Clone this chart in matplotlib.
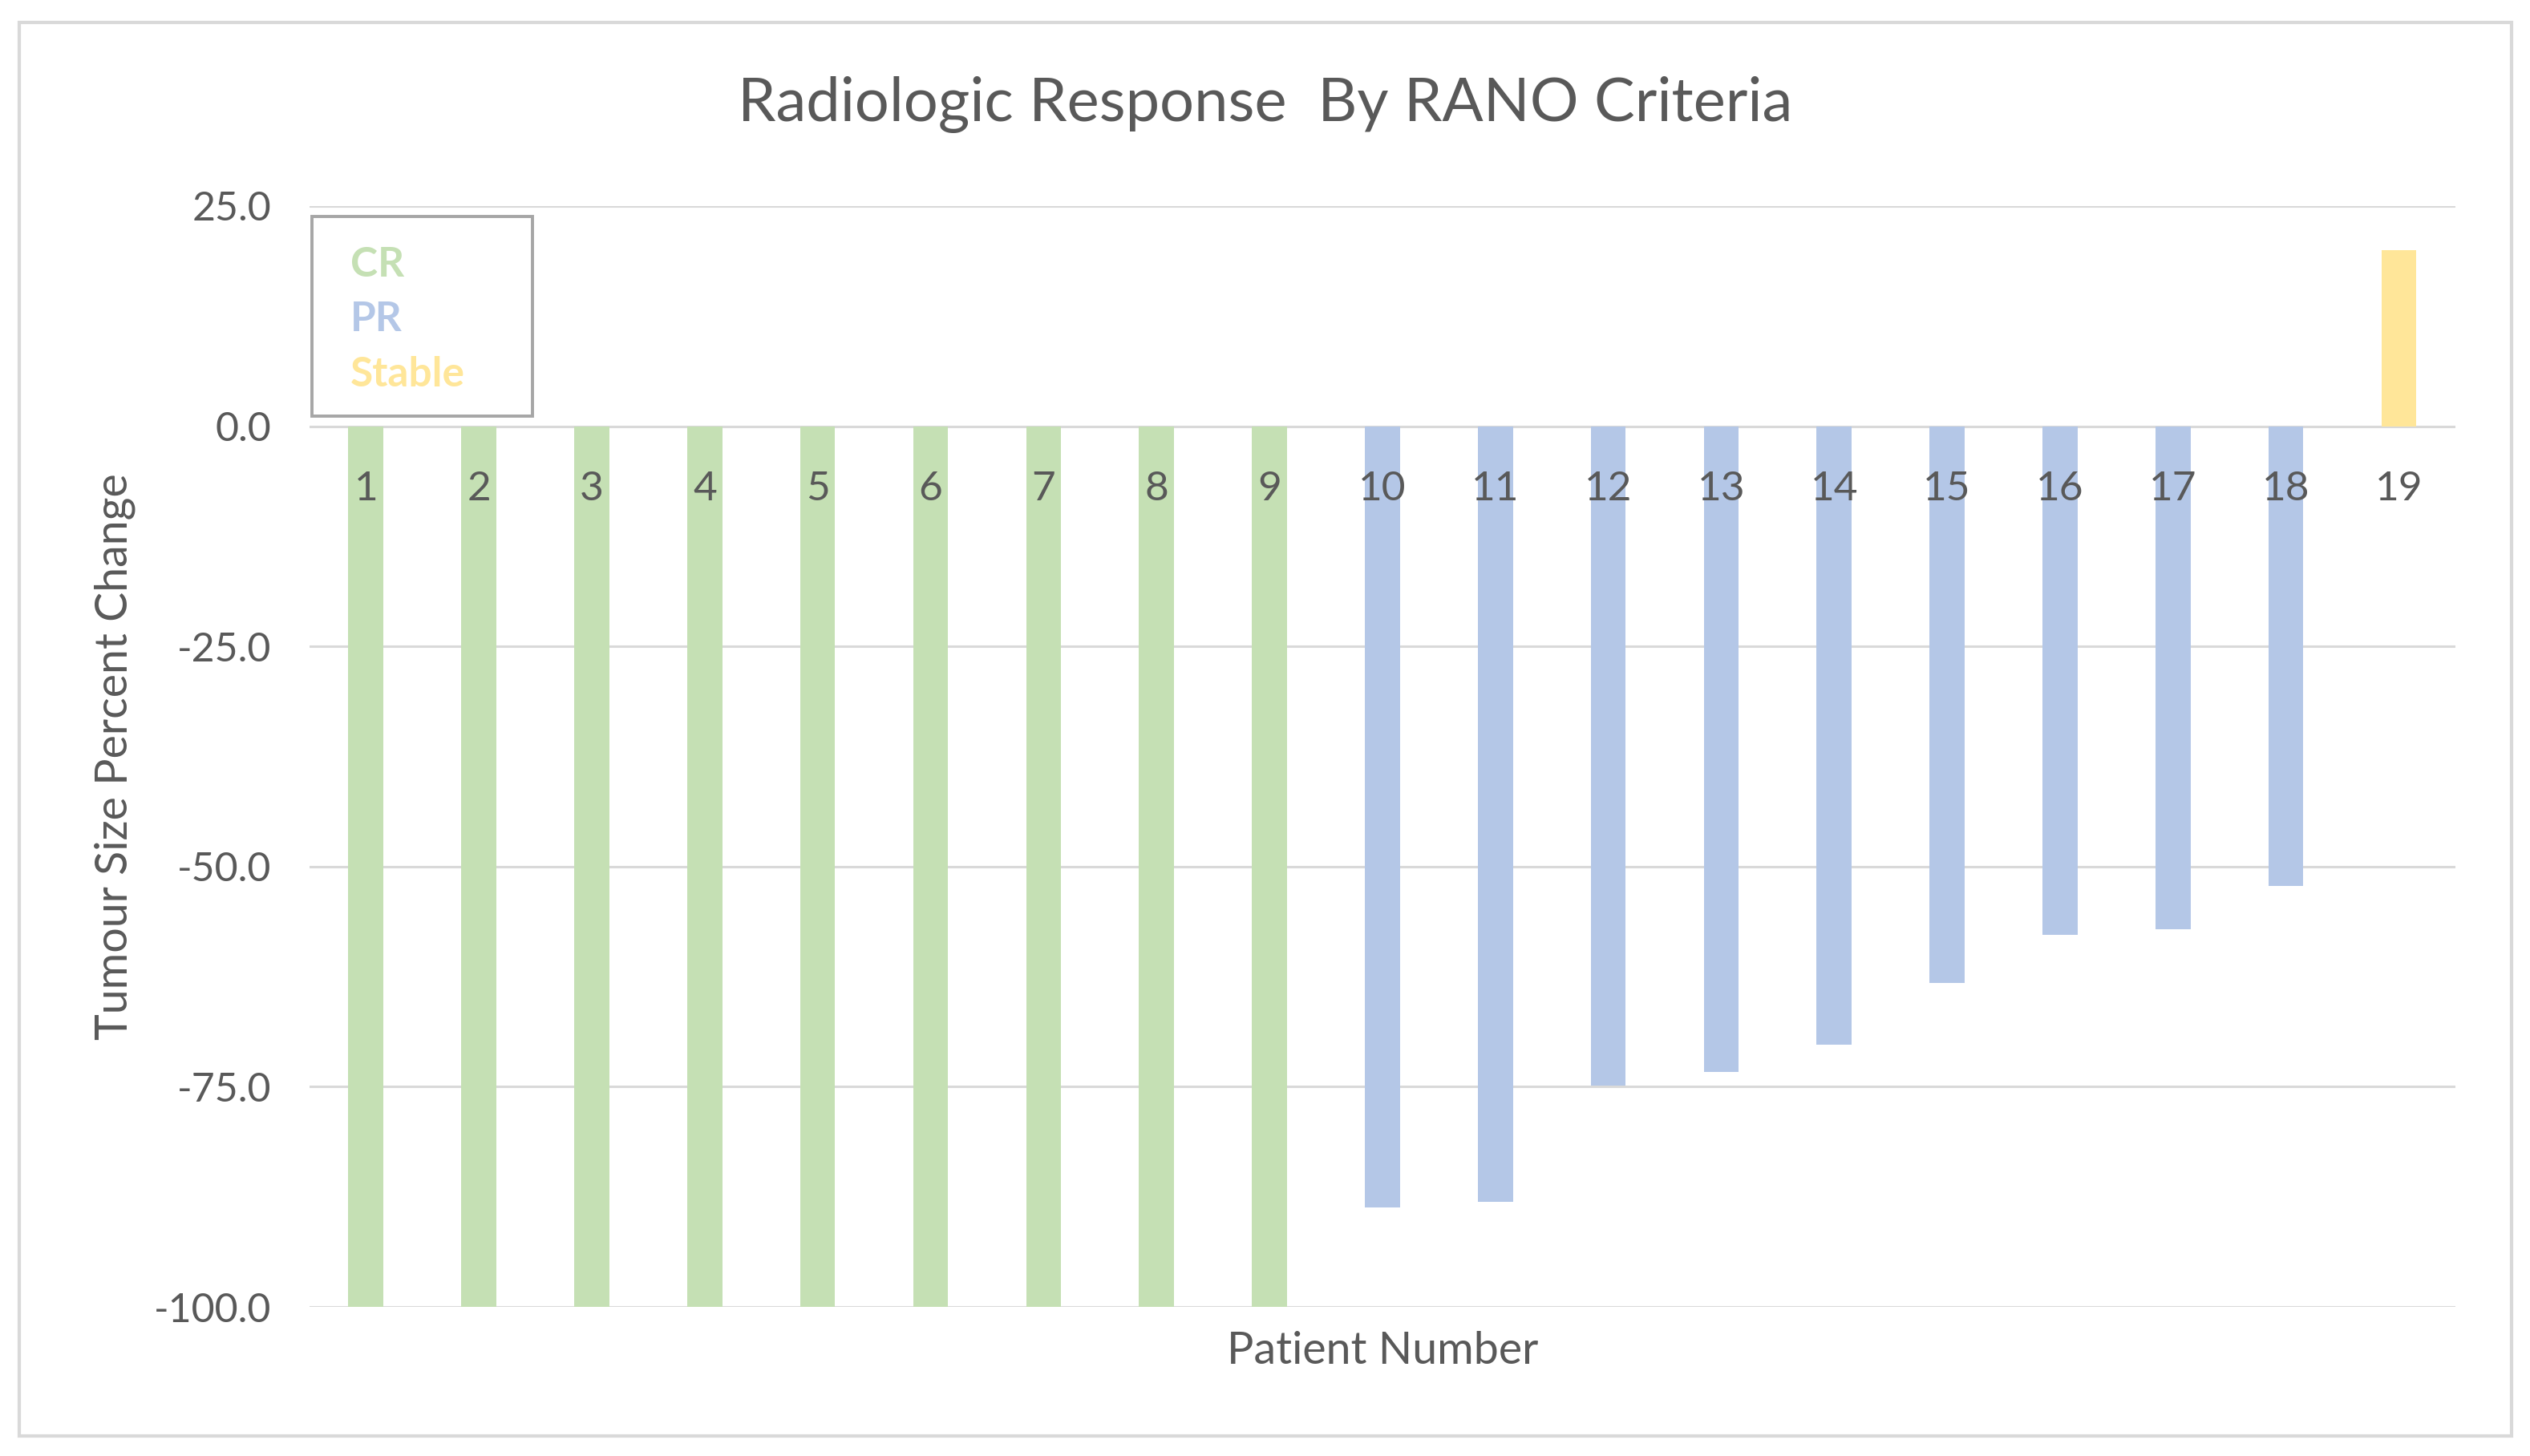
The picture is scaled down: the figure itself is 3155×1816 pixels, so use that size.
import matplotlib.pyplot as plt
from matplotlib.patches import Rectangle

# tumour size change per patient
patients = [str(i) for i in range(1, 20)]
change = [-100, -100, -100, -100, -100, -100, -100, -100, -100,
          -88.7, -88.1, -74.9, -73.3, -70.2, -63.2, -57.8, -57.1, -52.2,
          20.0]
response = ['CR'] * 9 + ['PR'] * 9 + ['Stable']

groups = ['CR', 'PR', 'Stable']
colours = {'CR': '#C5E0B4', 'PR': '#B4C7E7', 'Stable': '#FFE699'}
yticks = [25, 0, -25, -50, -75, -100]

grey = '#595959'
plt.rcParams['font.family'] = ['Lato', 'DejaVu Sans']

fig = plt.figure(figsize=(15.775, 9.08), dpi=200)
ax = fig.add_axes([0.1223, 0.1024, 0.8482, 0.7561])

x = list(range(len(patients)))
ax.bar(x, change, width=0.31, color=[colours[r] for r in response], zorder=2)

ax.set_xlim(-0.5, len(patients) - 0.5)
ax.set_ylim(-100, 25)
ax.set_yticks(yticks)
ax.set_yticklabels([f'{v:.1f}' for v in yticks])
ax.set_xticks(x)
ax.set_xticklabels(patients)
ax.grid(axis='y', color='#D9D9D9', linewidth=1.1)
ax.set_axisbelow(True)
ax.xaxis.set_zorder(3)  # patient numbers sit on top of the bars

for s in ['top', 'right', 'left']:
    ax.spines[s].set_visible(False)
ax.spines['bottom'].set_position(('data', 0))
ax.spines['bottom'].set_color('none')

ax.tick_params(axis='y', length=0, pad=17, labelsize=18, labelcolor=grey)
ax.tick_params(axis='x', length=0, pad=20, labelsize=18.5, labelcolor=grey)

ax.set_xlabel('Patient Number', fontsize=20, color=grey)
ax.xaxis.set_label_coords(0.5, -0.022)
ax.set_ylabel('Tumour Size Percent Change', fontsize=20, color=grey)
ax.yaxis.set_label_coords(-0.081, 0.5)

fig.text(0.5, 0.928, 'Radiologic Response  By RANO Criteria', fontsize=27.3,
         color=grey, ha='center', va='center')

# legend box: coloured words only
ax.add_patch(Rectangle((0.001, 0.809), 0.1029, 0.1815, transform=ax.transAxes,
                       fill=True, facecolor='white', edgecolor='#A6A6A6',
                       linewidth=1.4, zorder=4))
for g, ty in zip(groups, [0.9467, 0.8972, 0.847]):
    ax.text(0.019, ty, g, transform=ax.transAxes, fontsize=18.5, fontweight='bold',
            color=colours[g], ha='left', va='center', zorder=5)

# outer chart border
fig.patches.append(Rectangle((0.0076, 0.014), 0.9851, 0.9706, transform=fig.transFigure,
                             fill=False, edgecolor='#D9D9D9', linewidth=1.5))

fig.savefig('out.png', dpi=200)
